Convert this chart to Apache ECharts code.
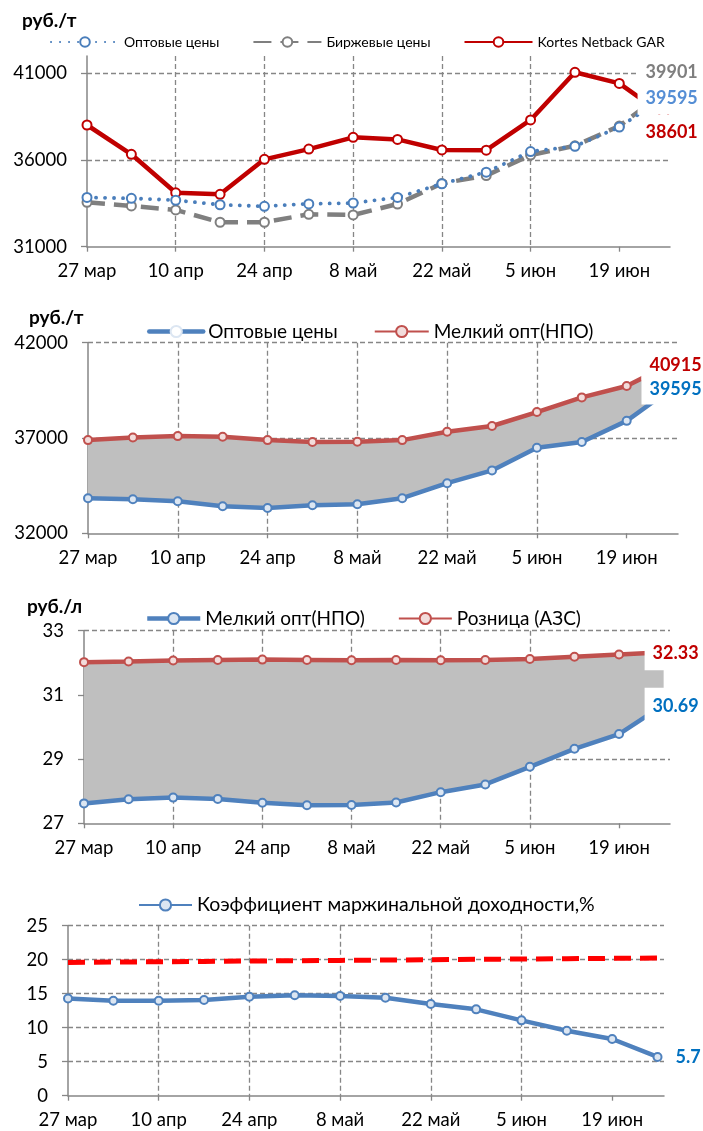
<!DOCTYPE html>
<html><head><meta charset="utf-8">
<script src="https://cdn.jsdelivr.net/npm/echarts@6/dist/echarts.min.js"></script>
<style>html,body{margin:0;padding:0;background:#fff}#c{width:703px;height:1131px}</style>
</head><body><div id="c"></div>
<script>
// ---- dates / ticks ----
const dates = ['2017-03-27','2017-04-03','2017-04-10','2017-04-17','2017-04-24','2017-05-01','2017-05-08','2017-05-15','2017-05-22','2017-05-29','2017-06-05','2017-06-12','2017-06-19','2017-06-26'];
const axisStartDate = '2017-03-27';
const axisEndDate = '2017-06-27';
const tickDates = ['2017-03-27','2017-04-10','2017-04-24','2017-05-08','2017-05-22','2017-06-05','2017-06-19'];
const tickLabels = ['27 мар','10 апр','24 апр','8 май','22 май','5 июн','19 июн'];

// ---- panel 1 (руб./т) ----
const wholesale = [33840,33790,33680,33420,33330,33470,33520,33840,34630,35300,36490,36790,37900,39595];
const exchange  = [33560,33350,33120,32410,32410,32870,32830,33460,34650,35100,36290,36820,37960,39901];
const kortes    = [38020,36330,34110,34020,36040,36630,37310,37190,36580,36570,38310,41060,40420,38601];
// ---- panel 2 (руб./т) ----
const smallWholesaleT = [36890,37030,37100,37070,36890,36790,36800,36890,37330,37630,38360,39130,39730,40915];
// ---- panel 3 (руб./л) ----
const smallWholesaleL = [27.62,27.75,27.80,27.76,27.64,27.56,27.57,27.65,27.97,28.21,28.76,29.32,29.78,30.69];
const retail = [32.02,32.04,32.07,32.09,32.10,32.09,32.08,32.09,32.08,32.09,32.12,32.19,32.26,32.33];
// ---- panel 4 (%) ----
const marginRatio = [14.3,13.97,13.97,14.07,14.56,14.76,14.66,14.41,13.49,12.70,11.08,9.56,8.34,5.7];
const marginThreshold = [19.6,19.65,19.7,19.75,19.8,19.85,19.9,19.95,20.0,20.05,20.1,20.15,20.2,20.25];

const FONT = 'Lato';
const dayOf = d => (Date.parse(d) - Date.parse(axisStartDate)) / 864e5;
const xs = dates.map(dayOf);
const tickDays = tickDates.map(dayOf);
const pts = vals => vals.map((v, i) => [xs[i], v]);
function withEndLabel(vals, label) {
  const d = pts(vals);
  const last = d.length - 1;
  d[last] = { value: d[last], label: Object.assign({
    show: true, position: 'inside', fontFamily: FONT, fontWeight: 'bold', fontSize: 18,
    backgroundColor: '#fff', padding: [8, 8], formatter: p => String(p.value[1])
  }, label) };
  return d;
}

const GRID_COLOR = '#868686';
function xAxis(gi) {
  return {
    type: 'value', gridIndex: gi, min: 0, max: dayOf(axisEndDate), interval: 14,
    axisLine: { show: true, onZero: false, lineStyle: { color: GRID_COLOR, width: 1.5 } },
    axisTick: { show: true, length: 5, customValues: tickDays, lineStyle: { color: GRID_COLOR, width: 1.3 } },
    axisLabel: { customValues: tickDays, formatter: v => tickLabels[tickDays.indexOf(v)] || '',
      margin: 15, fontSize: 18.5, color: '#000', fontFamily: FONT },
    splitLine: { show: true, showMinLine: false, showMaxLine: false,
      lineStyle: { type: [5, 3], color: GRID_COLOR, width: 1.3 } }
  };
}
function yAxis(gi, min, max, interval, showTop) {
  return {
    type: 'value', gridIndex: gi, min, max, interval,
    axisLine: { show: true, onZero: false, lineStyle: { color: GRID_COLOR, width: 1.5 } },
    axisTick: { show: true, length: 6, lineStyle: { color: GRID_COLOR, width: 1.3 } },
    axisLabel: { margin: 20, fontSize: 18.5, color: '#000', fontFamily: FONT, showMaxLabel: showTop,
      formatter: v => String(v) },
    splitLine: { show: true, showMinLine: false, showMaxLine: showTop,
      lineStyle: { type: [5, 3], color: GRID_COLOR, width: 1.3 } }
  };
}

const BLUE = '#4F81BD', RED2 = '#C0504D';
function xlLine(name, gi, data, color, light, extra) {
  return Object.assign({
    type: 'line', name, xAxisIndex: gi, yAxisIndex: gi, data,
    symbol: 'circle', symbolSize: 8,
    itemStyle: { color: light, borderColor: color, borderWidth: 2 },
    lineStyle: { color, width: 4.5 }, z: 3
  }, extra || {});
}
// gray band between two series, drawn through the axis scales (api.coord)
function band(gi, lower, upper) {
  return {
    type: 'custom', xAxisIndex: gi, yAxisIndex: gi, data: pts(lower), silent: true, z: 1,
    renderItem: (params, api) => {
      if (params.dataIndex !== 0) return null;
      const top = upper.map((v, i) => api.coord([xs[i], v]));
      const bot = lower.map((v, i) => api.coord([xs[i], v])).reverse();
      return { type: 'polygon', shape: { points: top.concat(bot) }, style: { fill: '#BFBFBF' } };
    }
  };
}

const titleStyle = { fontFamily: FONT, fontWeight: 'bold', fontSize: 19, color: '#000' };
const option = {
  animation: false,
  backgroundColor: '#fff',
  textStyle: { fontFamily: FONT },
  title: [
    { text: 'руб./т', left: 22, top: 11, padding: 0, textStyle: titleStyle },
    { text: 'руб./т', left: 29, top: 308, padding: 0, textStyle: titleStyle },
    { text: 'руб./л', left: 27, top: 597, padding: 0, textStyle: titleStyle }
  ],
  legend: [
    { left: 45, top: 30, itemWidth: 68, itemHeight: 12, itemGap: 33,
      textStyle: { fontSize: 14, color: '#000', fontFamily: FONT },
      data: ['Оптовые цены', 'Биржевые цены', 'Kortes Netback GAR'] },
    { left: 142, top: 317, itemWidth: 54, itemHeight: 14, itemGap: 36,
      textStyle: { fontSize: 19, color: '#000', fontFamily: FONT },
      data: [{ name: 'Оптовые цены', lineStyle: { type: 'solid', color: BLUE, width: 4.5 },
               itemStyle: { color: '#DCE6F2', borderColor: BLUE, borderWidth: 2 } }, 'Мелкий опт(НПО)'] },
    { left: 140, top: 604, itemWidth: 53, itemHeight: 14, itemGap: 33,
      textStyle: { fontSize: 19, color: '#000', fontFamily: FONT },
      data: [{ name: 'Мелкий опт(НПО)', lineStyle: { type: 'solid', color: BLUE, width: 4.5 },
               itemStyle: { color: '#DCE6F2', borderColor: BLUE, borderWidth: 2 } }, 'Розница (АЗС)'] },
    { left: 133, top: 890, itemWidth: 53, itemHeight: 14,
      textStyle: { fontSize: 19.5, color: '#000', fontFamily: FONT },
      data: ['Коэффициент маржинальной доходности,%'] }
  ],
  grid: [
    { left: 87, right: 33, top: 56, height: 190.7, outerBoundsMode: 'none' },
    { left: 88, right: 25, top: 342.7, height: 190.6, outerBoundsMode: 'none' },
    { left: 84, right: 33, top: 630.7, height: 192.6, outerBoundsMode: 'none' },
    { left: 68, right: 39, top: 925.7, height: 170, outerBoundsMode: 'none' }
  ],
  xAxis: [xAxis(0), xAxis(1), xAxis(2), xAxis(3)],
  yAxis: [
    yAxis(0, 31000, 42000, 5000, false),
    yAxis(1, 32000, 42000, 5000, true),
    yAxis(2, 27, 33, 2, true),
    yAxis(3, 0, 25, 5, true)
  ],
  series: [
    // panel 1
    { type: 'line', name: 'Биржевые цены', xAxisIndex: 0, yAxisIndex: 0,
      data: withEndLabel(exchange, { color: '#7F7F7F', offset: [8, -20] }),
      symbol: 'emptyCircle', symbolSize: 9, itemStyle: { color: '#7F7F7F', borderWidth: 2 },
      lineStyle: { color: '#7F7F7F', width: 4.5, type: [18, 9] }, z: 3 },
    { type: 'line', name: 'Оптовые цены', xAxisIndex: 0, yAxisIndex: 0,
      data: withEndLabel(wholesale, { color: '#558ED5', offset: [8, 0] }),
      symbol: 'emptyCircle', symbolSize: 9, itemStyle: { color: '#4A7EBB', borderWidth: 2 },
      lineStyle: { color: '#4A7EBB', width: 3.8, type: [0.1, 8.9], cap: 'round' }, z: 4 },
    { type: 'line', name: 'Kortes Netback GAR', xAxisIndex: 0, yAxisIndex: 0,
      data: withEndLabel(kortes, { color: '#C00000', offset: [8, 17] }),
      symbol: 'emptyCircle', symbolSize: 9, itemStyle: { color: '#C00000', borderWidth: 2 },
      lineStyle: { color: '#C00000', width: 4.5 }, z: 3 },
    // panel 2
    band(1, wholesale, smallWholesaleT),
    xlLine('Мелкий опт(НПО)', 1, withEndLabel(smallWholesaleT, { color: '#C00000', offset: [4, 2], padding: [6, 8] }), RED2, '#F2DCDB'),
    xlLine('Оптовые цены', 1, withEndLabel(wholesale, { color: '#0070C0', offset: [4, 1], padding: [6, 8] }), BLUE, '#DCE6F2'),
    // panel 3
    band(2, smallWholesaleL, retail),
    xlLine('Мелкий опт(НПО)', 2, withEndLabel(smallWholesaleL, { color: '#0070C0', offset: [12, 1], padding: [10, 8, 8, 8] }), BLUE, '#DCE6F2'),
    xlLine('Розница (АЗС)', 2, withEndLabel(retail, { color: '#C00000', offset: [12, 1] }), RED2, '#F2DCDB'),
    // panel 4
    { type: 'line', name: 'threshold', xAxisIndex: 3, yAxisIndex: 3, data: pts(marginThreshold),
      symbol: 'none', lineStyle: { color: '#FF0000', width: 5, type: [17, 9] }, z: 2 },
    xlLine('Коэффициент маржинальной доходности,%', 3,
      withEndLabel(marginRatio, { color: '#0070C0', position: 'right', distance: 13, backgroundColor: 'transparent', padding: 0 }),
      BLUE, '#DCE6F2')
  ]
};
const chart = echarts.init(document.getElementById('c'), null, { renderer: 'canvas' });
chart.setOption(option);
</script></body></html>
